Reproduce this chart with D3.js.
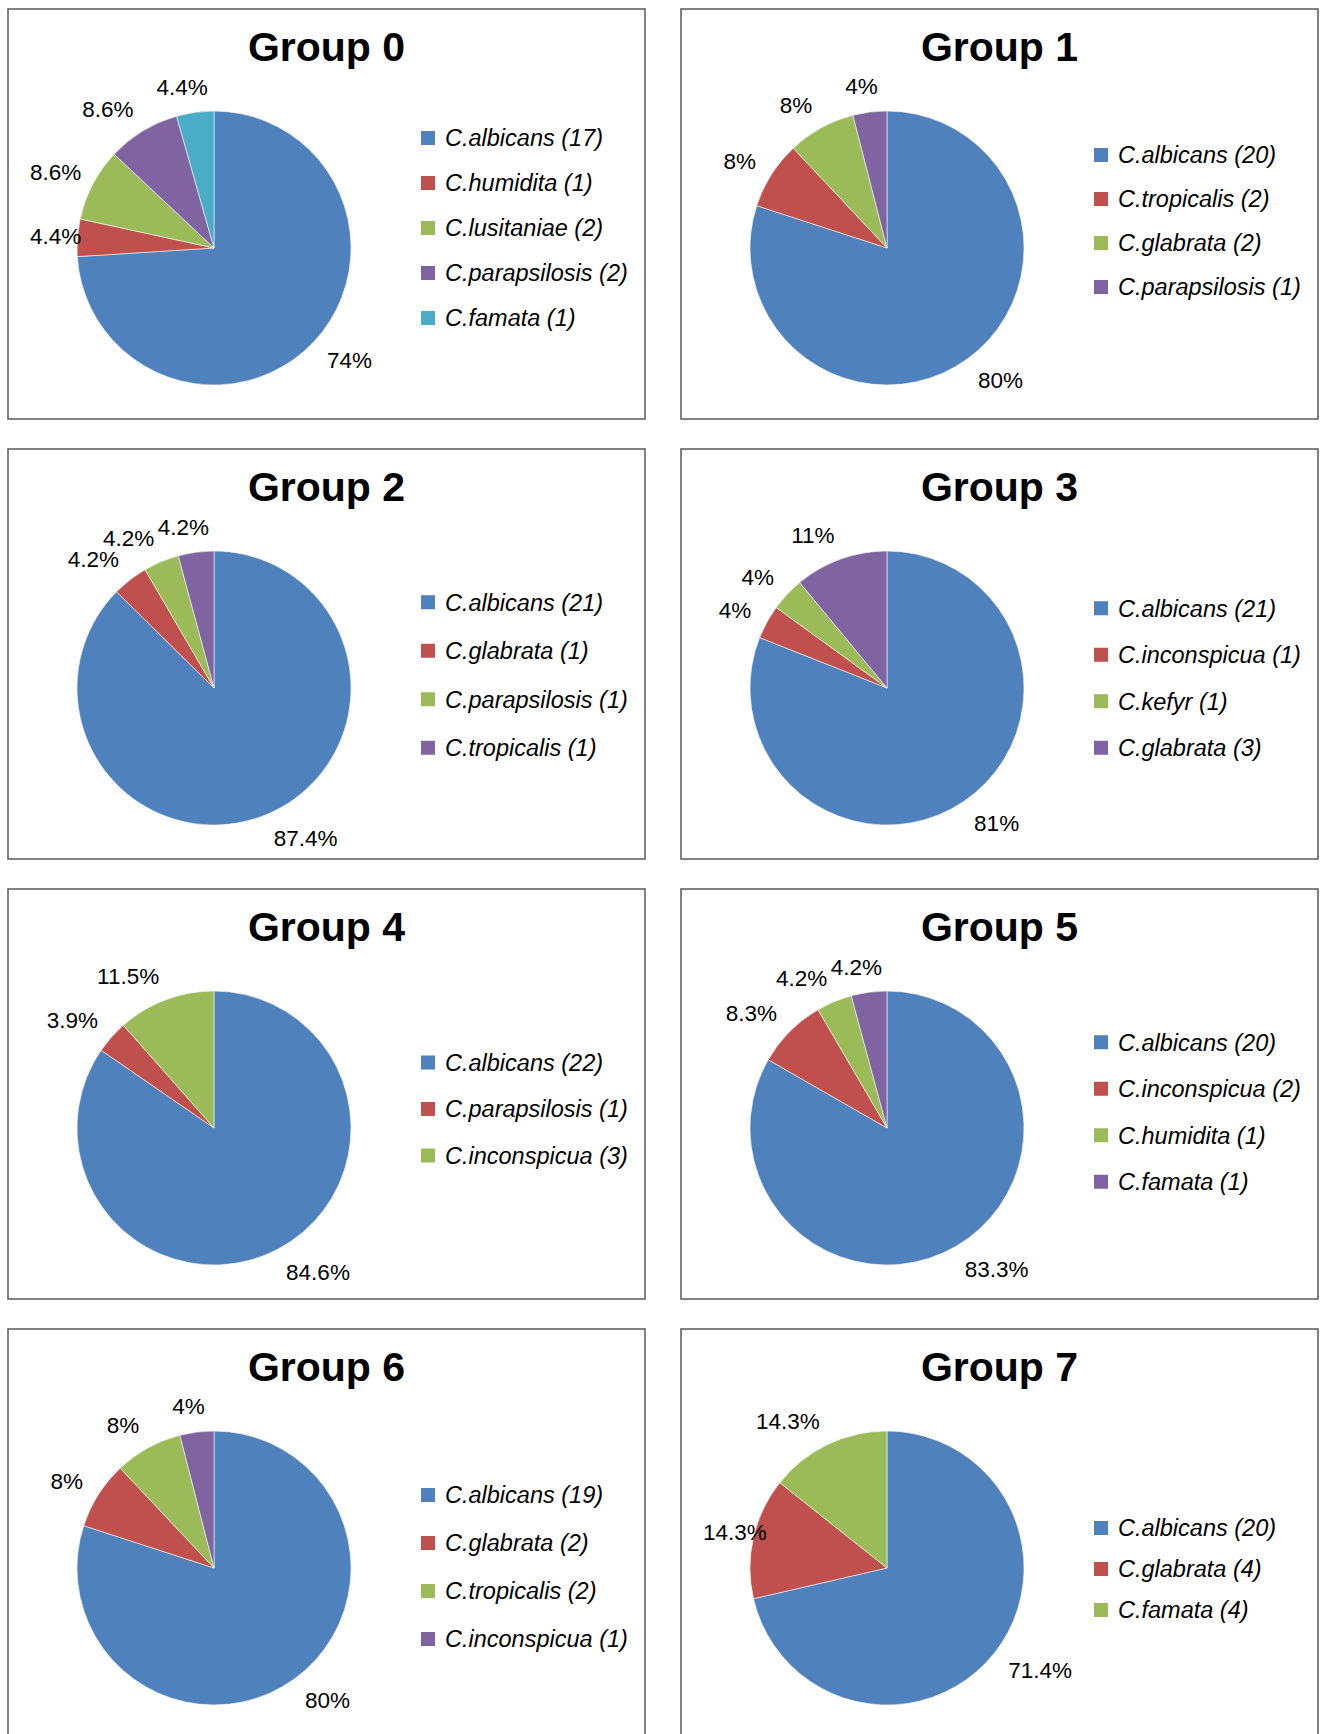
<!DOCTYPE html>
<html lang="en">
<head>
<meta charset="utf-8">
<title>Candida species by group</title>
<script src="https://d3js.org/d3.v7.min.js"></script>
<style>
  body { margin: 0; background: #fff; }
  text { font-family: "Liberation Sans", Arial, sans-serif; fill: #000; }
</style>
</head>
<body>
<script>
// data
const groupNames = ["Group 0", "Group 1", "Group 2", "Group 3", "Group 4", "Group 5", "Group 6", "Group 7"];

const speciesNames = [
  ["C.albicans", "C.humidita", "C.lusitaniae", "C.parapsilosis", "C.famata"],
  ["C.albicans", "C.tropicalis", "C.glabrata", "C.parapsilosis"],
  ["C.albicans", "C.glabrata", "C.parapsilosis", "C.tropicalis"],
  ["C.albicans", "C.inconspicua", "C.kefyr", "C.glabrata"],
  ["C.albicans", "C.parapsilosis", "C.inconspicua"],
  ["C.albicans", "C.inconspicua", "C.humidita", "C.famata"],
  ["C.albicans", "C.glabrata", "C.tropicalis", "C.inconspicua"],
  ["C.albicans", "C.glabrata", "C.famata"]
];

const speciesCounts = [
  [17, 1, 2, 2, 1],
  [20, 2, 2, 1],
  [21, 1, 1, 1],
  [21, 1, 1, 3],
  [22, 1, 3],
  [20, 2, 1, 1],
  [19, 2, 2, 1],
  [20, 4, 4]
];

const percentValues = [
  [74, 4.4, 8.6, 8.6, 4.4],
  [80, 8, 8, 4],
  [87.4, 4.2, 4.2, 4.2],
  [81, 4, 4, 11],
  [84.6, 3.9, 11.5],
  [83.3, 8.3, 4.2, 4.2],
  [80, 8, 8, 4],
  [71.4, 14.3, 14.3]
];

const sliceColors = ["#4F81BD", "#C0504D", "#9BBB59", "#8064A2", "#4BACC6"];

// layout
const width = 1321, height = 1734;
const boxW = 637, boxH = 410;
const colX = [8, 681], rowY = [9, 449, 889, 1329];
const pieCx = 206, pieCy = 239, radius = 137;
const legendMid = [219, 212, 226, 229, 220, 223, 238, 240];
const legendGap = [45, 44, 48.5, 46.5, 46.5, 46.5, 48, 41];

const svg = d3.select("body").append("svg")
    .attr("width", width)
    .attr("height", height);

const pie = d3.pie().sort(null).value(d => d.pct);
const arc = d3.arc().innerRadius(0).outerRadius(radius);

groupNames.forEach(function(name, gi) {
  const bx = colX[gi % 2], by = rowY[Math.floor(gi / 2)];
  const g = svg.append("g").attr("transform", `translate(${bx},${by})`);

  g.append("rect")
      .attr("width", boxW)
      .attr("height", boxH)
      .attr("fill", "#fff")
      .attr("stroke", "#595959")
      .attr("stroke-width", 1.5);

  g.append("text")
      .attr("x", boxW / 2)
      .attr("y", 52)
      .attr("text-anchor", "middle")
      .style("font-size", "41px")
      .style("font-weight", "bold")
      .text(name);

  const slices = speciesNames[gi].map((s, i) => ({
    name: s, count: speciesCounts[gi][i], pct: percentValues[gi][i], color: sliceColors[i]
  }));
  const arcs = pie(slices);

  const pieG = g.append("g").attr("transform", `translate(${pieCx},${pieCy})`);

  pieG.selectAll("path")
    .data(arcs)
    .join("path")
      .attr("d", arc)
      .attr("fill", d => d.data.color)
      .attr("stroke", "#fff")
      .attr("stroke-width", 0.8)
      .attr("stroke-opacity", 0.7);

  // outside-end percentage labels
  pieG.selectAll("text.pct")
    .data(arcs)
    .join("text")
      .attr("class", "pct")
      .attr("text-anchor", "middle")
      .attr("dy", "0.36em")
      .style("font-size", "22.5px")
      .text(d => d.data.pct + "%")
      .each(function(d) {
        const mid = (d.startAngle + d.endAngle) / 2;
        const ux = Math.sin(mid), uy = -Math.cos(mid);
        const w = this.getComputedTextLength(), h = 16;
        let x = (radius + 18) * ux + (w / 2) * Math.sign(ux) * Math.min(1, Math.abs(ux) * 3);
        const y = (radius + 18) * uy + (h / 2) * uy;
        // keep inside the chart box
        const minX = 22 - pieCx + w / 2;
        if (x < minX) x = minX;
        d3.select(this).attr("x", x).attr("y", y);
      });

  // legend
  const n = slices.length;
  const y0 = legendMid[gi] - legendGap[gi] * (n - 1) / 2;
  const leg = g.append("g").selectAll("g")
    .data(slices)
    .join("g")
      .attr("transform", (d, i) => `translate(413,${y0 + i * legendGap[gi]})`);

  leg.append("rect")
      .attr("y", -7)
      .attr("width", 14)
      .attr("height", 14)
      .attr("fill", d => d.color);

  leg.append("text")
      .attr("x", 24)
      .attr("dy", "0.36em")
      .style("font-size", "23.5px")
      .style("font-style", "italic")
      .text(d => `${d.name} (${d.count})`);
});
</script>
</body>
</html>
